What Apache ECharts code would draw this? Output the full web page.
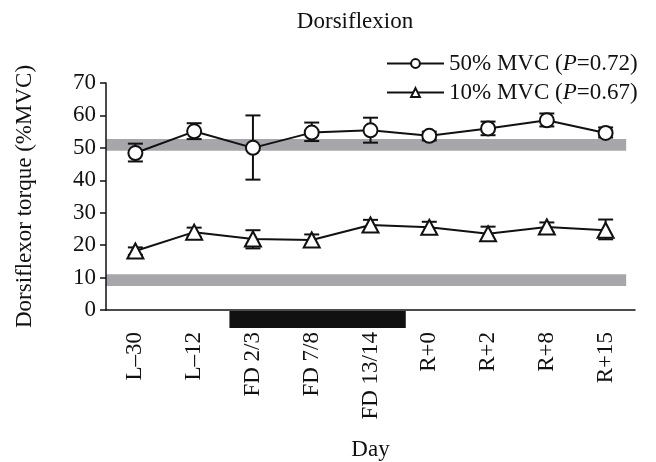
<!DOCTYPE html>
<html>
<head>
<meta charset="utf-8">
<script src="https://cdn.jsdelivr.net/npm/echarts@6/dist/echarts.min.js"></script>
<style>
html,body{margin:0;padding:0;background:#fff;}
#chart{width:656px;height:462px;}
</style>
</head>
<body>
<div id="chart"></div>
<script>
// ---- data ----
const days = ['L\u201330', 'L\u201312', 'FD 2/3', 'FD 7/8', 'FD 13/14', 'R+0', 'R+2', 'R+8', 'R+15'];
const mvc50 = [48.4, 55.1, 50.0, 54.7, 55.4, 53.7, 56.0, 58.5, 54.6];
const mvc50Low = [45.8, 52.7, 40.2, 52.1, 51.6, 52.3, 53.9, 56.6, 53.2];
const mvc50High = [51.3, 57.6, 60.0, 57.8, 59.3, 55.0, 58.1, 60.6, 56.3];
const mvc10 = [18.2, 24.0, 21.9, 21.6, 26.2, 25.5, 23.5, 25.6, 24.6];
const mvc10Low = [17.0, 22.6, 19.0, 19.8, 24.5, 23.8, 21.4, 24.1, 21.8];
const mvc10High = [19.3, 25.4, 24.6, 23.3, 27.8, 27.2, 25.7, 27.0, 27.9];
const seriesNames = ['50% MVC', '10% MVC'];
const pValues = ['0.72', '0.67'];
const bands = [[49.1, 52.7], [7.4, 11.0]];      // grey reference bands (y range)
const bandXRange = [-0.5, 8.35];                 // grey band x extent (category index units)
const flightSpan = [1.6, 4.6];                   // black flight bar (category index units)
const yTicks = {min: 0, max: 70, interval: 10};

// ---- chart ----
const FONT = '"Liberation Serif", "DejaVu Serif", serif';
const FS = 23;
const INK = '#111';
const chart = echarts.init(document.getElementById('chart'), null, {renderer: 'canvas'});

function errData(lo, hi) { return lo.map((v, i) => [i, v, hi[i]]); }

function errRender(params, api) {
  const x = api.value(0), lo = api.value(1), hi = api.value(2);
  const a = api.coord([x, hi]), b = api.coord([x, lo]);
  const w = 7.5;
  const st = {stroke: INK, lineWidth: 2};
  return {type: 'group', children: [
    {type: 'line', shape: {x1: a[0], y1: a[1], x2: b[0], y2: b[1]}, style: st},
    {type: 'line', shape: {x1: a[0] - w, y1: a[1], x2: a[0] + w, y2: a[1]}, style: st},
    {type: 'line', shape: {x1: b[0] - w, y1: b[1], x2: b[0] + w, y2: b[1]}, style: st}
  ]};
}

const option = {
  backgroundColor: '#fff',
  animation: false,
  title: {
    text: 'Dorsiflexion', left: 350, top: 5, textAlign: 'center',
    textStyle: {fontFamily: FONT, fontSize: FS, fontWeight: 'normal', color: INK}
  },
  legend: {
    orient: 'vertical', left: 381, top: 47, itemGap: 6,
    itemWidth: 57, itemHeight: 11,
    data: seriesNames,
    formatter: name => {
      const i = seriesNames.indexOf(name);
      return name + ' ({i|P}=' + pValues[i] + ')';
    },
    textStyle: {
      fontFamily: FONT, fontSize: FS, color: INK,
      rich: {i: {fontFamily: FONT, fontSize: FS, fontStyle: 'italic', color: INK}}
    }
  },
  grid: {left: 106, right: 21, top: 83, bottom: 150},
  xAxis: [{
    type: 'category', data: days, boundaryGap: true,
    name: 'Day', nameLocation: 'middle', nameGap: 128,
    nameTextStyle: {fontFamily: FONT, fontSize: FS, color: INK},
    axisLine: {show: true, onZero: false, lineStyle: {color: INK, width: 1.5}},
    axisTick: {show: false},
    axisLabel: {rotate: 90, margin: 22, fontFamily: FONT, fontSize: FS, color: INK, interval: 0},
    splitLine: {show: false}
  }, {
    type: 'value', min: -0.5, max: 8.5, show: false
  }],
  yAxis: {
    type: 'value', min: yTicks.min, max: yTicks.max, interval: yTicks.interval,
    name: 'Dorsiflexor torque (%MVC)', nameLocation: 'middle', nameGap: 70,
    nameTextStyle: {fontFamily: FONT, fontSize: FS, color: INK},
    axisLine: {show: true, onZero: false, lineStyle: {color: INK, width: 1.5}},
    axisTick: {show: true, length: 6, lineStyle: {color: INK, width: 1.5}},
    axisLabel: {margin: 10, fontFamily: FONT, fontSize: FS, color: INK},
    splitLine: {show: false}
  },
  series: [
    {
      type: 'custom', xAxisIndex: 1, z: 0, silent: true,
      data: bands.map(b => [bandXRange[0], bandXRange[1], b[0], b[1]]),
      renderItem: (params, api) => {
        const p1 = api.coord([api.value(0), api.value(3)]);
        const p2 = api.coord([api.value(1), api.value(2)]);
        return {type: 'rect', shape: {x: p1[0], y: p1[1], width: p2[0] - p1[0], height: p2[1] - p1[1]},
          style: {fill: '#a7a7ab'}};
      }
    },
    {
      type: 'custom', xAxisIndex: 1, z: 0, silent: true, clip: false,
      data: [[flightSpan[0], flightSpan[1]]],
      renderItem: (params, api) => {
        const p1 = api.coord([api.value(0), 0]);
        const p2 = api.coord([api.value(1), 0]);
        return {type: 'rect', shape: {x: p1[0], y: p1[1] + 1, width: p2[0] - p1[0], height: 17},
          style: {fill: '#111'}};
      }
    },
    {type: 'custom', xAxisIndex: 1, z: 1, silent: true, data: errData(mvc50Low, mvc50High), renderItem: errRender},
    {type: 'custom', xAxisIndex: 1, z: 1, silent: true, data: errData(mvc10Low, mvc10High), renderItem: errRender},
    {
      name: seriesNames[0], type: 'line', xAxisIndex: 0, z: 3, data: mvc50,
      symbol: 'circle', symbolSize: 14,
      itemStyle: {color: '#fff', borderColor: INK, borderWidth: 2},
      lineStyle: {color: INK, width: 2}
    },
    {
      name: seriesNames[1], type: 'line', xAxisIndex: 0, z: 3, data: mvc10,
      symbol: 'triangle', symbolSize: [16, 15],
      itemStyle: {color: '#fff', borderColor: INK, borderWidth: 2},
      lineStyle: {color: INK, width: 2}
    }
  ]
};
chart.setOption(option);
</script>
</body>
</html>
